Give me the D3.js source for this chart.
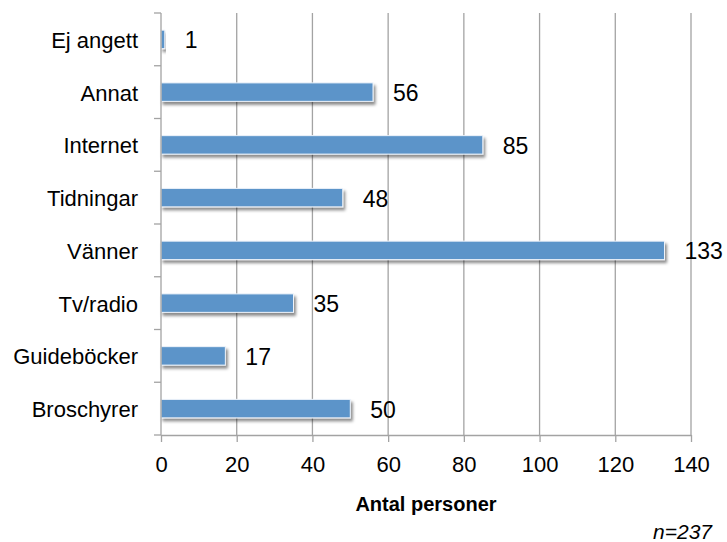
<!DOCTYPE html>
<html>
<head>
<meta charset="utf-8">
<script src="https://cdn.jsdelivr.net/npm/d3@7"></script>
<style>
  html, body { margin: 0; padding: 0; background: #ffffff; }
  svg { display: block; }
</style>
</head>
<body>
<svg id="chart" width="727" height="542"></svg>
<script>
// Survey answers: where respondents heard about the destination
const categories = ["Ej angett", "Annat", "Internet", "Tidningar", "Vänner", "Tv/radio", "Guideböcker", "Broschyrer"];
const counts = [1, 56, 85, 48, 133, 35, 17, 50];
const xTicks = [0, 20, 40, 60, 80, 100, 120, 140];
const xTitle = "Antal personer";
const sampleNote = "n=237";

const svg = d3.select("#chart");
const plotLeft = 161, plotRight = 691, plotTop = 13, plotBottom = 435;

const x = d3.scaleLinear().domain([0, 140]).range([plotLeft, plotRight]);
const y = d3.scaleBand().domain(categories).range([plotTop, plotBottom]).paddingInner(0.65).paddingOuter(0.325);

const gridColor = "#a3a3a3";

// drop shadow for the bars
const defs = svg.append("defs");
const f = defs.append("filter").attr("id", "shadow")
  .attr("x", "-5%").attr("y", "-30%").attr("width", "115%").attr("height", "180%");
f.append("feDropShadow").attr("dx", 2).attr("dy", 3).attr("stdDeviation", 1.8)
  .attr("flood-color", "#000").attr("flood-opacity", 0.45);

// vertical gridlines
svg.append("g").selectAll("line").data(xTicks.slice(1)).join("line")
  .attr("x1", d => x(d)).attr("x2", d => x(d))
  .attr("y1", plotTop).attr("y2", plotBottom)
  .attr("stroke", gridColor).attr("stroke-width", 1.3);

// bars
svg.append("g").selectAll("rect").data(categories).join("rect")
  .attr("x", x(0))
  .attr("y", d => y(d))
  .attr("width", (d, i) => x(counts[i]) - x(0))
  .attr("height", y.bandwidth())
  .attr("fill", "#5b94c9")
  .attr("stroke", "#eef3fa")
  .attr("stroke-width", 1)
  .attr("filter", "url(#shadow)");

// x axis
const xAxis = svg.append("g").attr("transform", `translate(0,${plotBottom})`)
  .call(d3.axisBottom(x).tickValues(xTicks).tickSize(7).tickSizeOuter(0).tickPadding(14));
xAxis.select(".domain").attr("stroke", gridColor).attr("stroke-width", 1.3);
xAxis.selectAll(".tick line").attr("stroke", gridColor).attr("stroke-width", 1.3);
xAxis.selectAll(".tick text")
  .attr("font-family", "'Liberation Sans', Arial, sans-serif")
  .attr("font-size", 22).attr("fill", "#000");

// y axis with ticks between categories
const yAxis = svg.append("g").attr("transform", `translate(${plotLeft},0)`);
yAxis.append("line").attr("x1", 0).attr("x2", 0).attr("y1", plotTop).attr("y2", plotBottom)
  .attr("stroke", gridColor).attr("stroke-width", 1.3);
const step = y.step();
const boundaries = d3.range(categories.length + 1).map(i => plotTop + i * step);
yAxis.selectAll("line.tk").data(boundaries).join("line").attr("class", "tk")
  .attr("x1", -7).attr("x2", 0).attr("y1", d => d).attr("y2", d => d)
  .attr("stroke", gridColor).attr("stroke-width", 1.3);
yAxis.selectAll("text").data(categories).join("text")
  .attr("x", -23)
  .attr("y", d => y(d) + y.bandwidth() / 2 + 8.5)
  .attr("text-anchor", "end")
  .attr("font-family", "'Liberation Sans', Arial, sans-serif")
  .attr("font-size", 22).attr("fill", "#000")
  .text(d => d);

// value labels
svg.append("g").selectAll("text").data(categories).join("text")
  .attr("x", (d, i) => x(counts[i]) + 20)
  .attr("y", d => y(d) + y.bandwidth() / 2 + 9)
  .attr("font-family", "'Liberation Sans', Arial, sans-serif")
  .attr("font-size", 23).attr("fill", "#000")
  .text((d, i) => counts[i]);

// axis title
svg.append("text")
  .attr("x", (plotLeft + plotRight) / 2).attr("y", 511)
  .attr("text-anchor", "middle")
  .attr("font-family", "'Liberation Sans', Arial, sans-serif")
  .attr("font-weight", "bold").attr("font-size", 20).attr("fill", "#000")
  .text(xTitle);

// sample size note
svg.append("text")
  .attr("x", 712).attr("y", 539)
  .attr("text-anchor", "end")
  .attr("font-family", "'Liberation Sans', Arial, sans-serif")
  .attr("font-style", "italic").attr("font-size", 21).attr("fill", "#000")
  .text(sampleNote);
</script>
</body>
</html>
